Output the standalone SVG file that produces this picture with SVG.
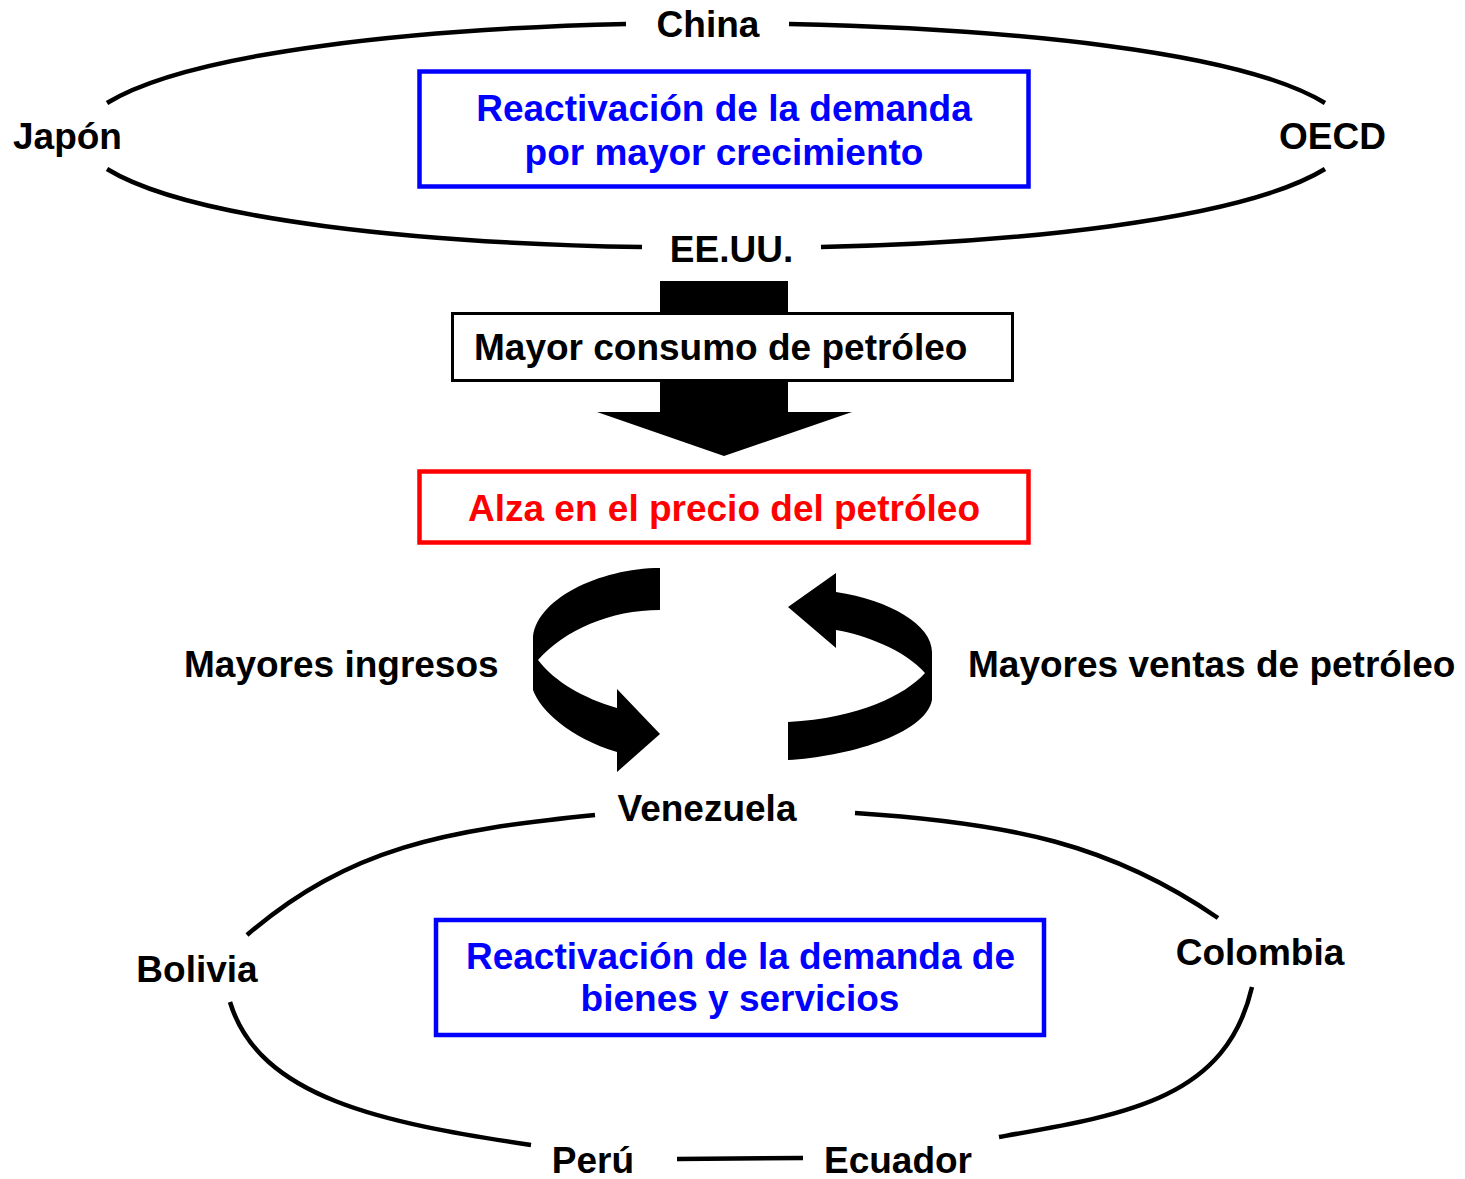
<svg xmlns="http://www.w3.org/2000/svg" width="1465" height="1179" viewBox="0 0 1465 1179">
<style>
.t{font-family:"Liberation Sans",Arial,sans-serif;font-weight:bold;font-size:37px;fill:#000}
.c{text-anchor:middle}
.b{fill:#0000FF}
.r{fill:#FF0000}
.ring{fill:none;stroke:#000;stroke-width:4.5}
.fat{fill:#000;stroke:none}
</style>
<rect width="1465" height="1179" fill="#fff"/>
<g id="connectors">
  <g id="ring-top">
    <path class="ring" d="M626,24 C426,28.6 192,50.8 107,103"/>
    <path class="ring" d="M107,169 C192,221 426,243.4 642,247"/>
    <path class="ring" d="M789,24 C1006,28.6 1240,50.8 1325,103"/>
    <path class="ring" d="M1325,169 C1240,221 1006,243.4 821,247"/>
  </g>
  <g id="ring-bottom">
    <path class="ring" d="M595,815 C446,830 349.6,847 247,935"/>
    <path class="ring" d="M230,1002 C259,1098 383,1123 531,1145"/>
    <path class="ring" d="M677,1159 L803,1158"/>
    <path class="ring" d="M999,1137 C1127,1114.5 1226,1099 1252,987"/>
    <path class="ring" d="M855,813 C1010,823 1111,844 1218,918"/>
  </g>
  <path id="arrow-down" class="fat" d="M660,281 H788 V412 H852 L724,456 L597,412 H660 Z"/>
  <path id="arrow-left-loop" class="fat" d="M660,568 C600,568 533,600 533,640 L533,690 C540,710 570,738 617,752 L617,772 L660,734 L617,689 L617,708 C583,698 555,682 538,660 C565,630 610,610 660,610 Z"/>
  <path id="arrow-right-loop" class="fat" d="M788,760 C845,757 925,735 932,700 L932,652 C932,625 890,600 836,592 L836,573 L788,607 L836,648 L836,630 C865,635 905,650 925,673 C905,695 860,718 788,722 Z"/>
</g>
<g id="china"><text class="t c" x="708" y="37">China</text></g>
<g id="japon"><text class="t" x="13" y="149">Japón</text></g>
<g id="oecd"><text class="t" x="1279" y="149">OECD</text></g>
<g id="eeuu"><text class="t c" x="731.5" y="262">EE.UU.</text></g>
<g id="demanda-crecimiento">
  <rect x="419.5" y="71.5" width="609" height="115" fill="none" stroke="#0000FF" stroke-width="4.5"/>
  <text class="t c b" x="724" y="121">Reactivación de la demanda</text>
  <text class="t c b" x="724" y="165">por mayor crecimiento</text>
</g>
<g id="mayor-consumo">
  <rect x="452.5" y="313.5" width="560" height="67" fill="#fff" stroke="#000" stroke-width="3"/>
  <text class="t" x="474" y="360">Mayor consumo de petróleo</text>
</g>
<g id="alza-precio">
  <rect x="419.5" y="471.5" width="609" height="71" fill="#fff" stroke="#FF0000" stroke-width="4.5"/>
  <text class="t c r" x="724" y="521">Alza en el precio del petróleo</text>
</g>
<g id="mayores-ingresos"><text class="t" x="184" y="677">Mayores ingresos</text></g>
<g id="mayores-ventas"><text class="t" x="968" y="677">Mayores ventas de petróleo</text></g>
<g id="venezuela"><text class="t c" x="707" y="821">Venezuela</text></g>
<g id="bolivia"><text class="t c" x="197" y="982">Bolivia</text></g>
<g id="colombia"><text class="t c" x="1260" y="965">Colombia</text></g>
<g id="peru"><text class="t c" x="593" y="1173">Perú</text></g>
<g id="ecuador"><text class="t c" x="898" y="1173">Ecuador</text></g>
<g id="demanda-bienes">
  <rect x="436" y="920" width="608" height="115" fill="none" stroke="#0000FF" stroke-width="4.5"/>
  <text class="t c b" x="740.5" y="969">Reactivación de la demanda de</text>
  <text class="t c b" x="740" y="1011">bienes y servicios</text>
</g>
</svg>
